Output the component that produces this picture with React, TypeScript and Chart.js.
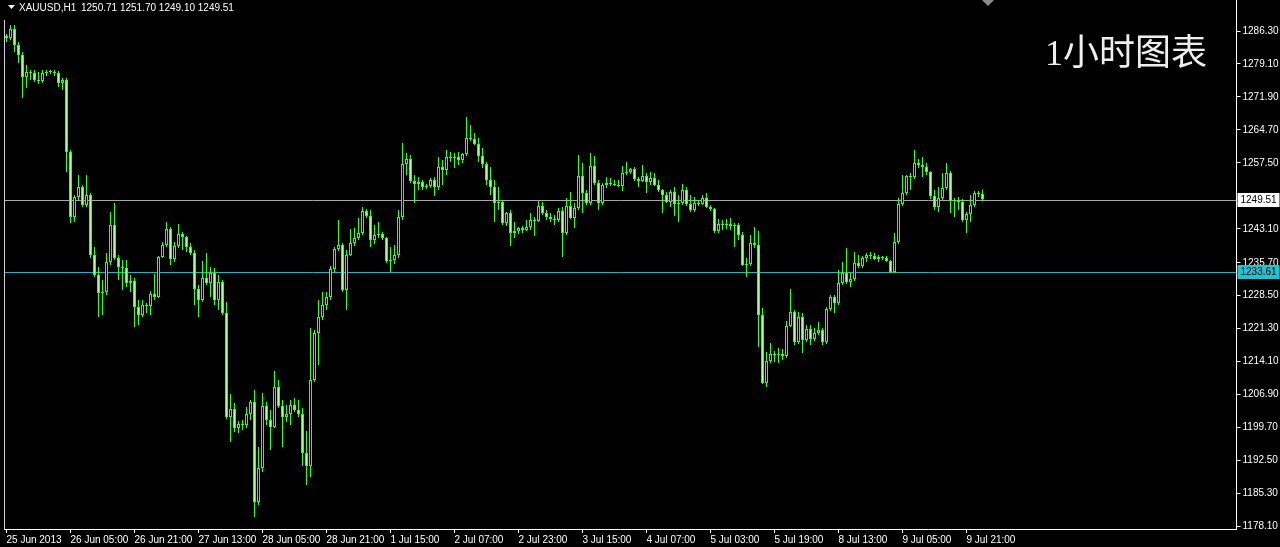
import { useEffect, useRef } from 'react';
import { Chart, registerables } from 'chart.js';

Chart.register(...registerables);

const SYMBOL = 'XAUUSD,H1';
const TITLE = '1小时图表';

const TICK_LABELS = [
  '25 Jun 2013', '26 Jun 05:00', '26 Jun 21:00', '27 Jun 13:00', '28 Jun 05:00', '28 Jun 21:00',
  '1 Jul 15:00', '2 Jul 07:00', '2 Jul 23:00', '3 Jul 15:00', '4 Jul 07:00', '5 Jul 03:00',
  '5 Jul 19:00', '8 Jul 13:00', '9 Jul 05:00', '9 Jul 21:00',
];

const Y_TICKS = [
  1178.10, 1185.30, 1192.50, 1199.70, 1206.90, 1214.10, 1221.30, 1228.50,
  1235.70, 1243.10, 1257.50, 1264.70, 1271.90, 1279.10, 1286.30,
];

const LAST_PRICE = 1249.51;
const LEVEL_PRICE = 1233.61;

const OPEN = [
  1285.21,1284.77,1286.74,1283.24,1281.06,1276.26,1277.35,1277.13,1275.60,1275.39,
  1277.13,1277.35,1277.35,1277.13,1274.95,1275.60,1259.89,1245.69,1250.06,1252.25,
  1248.31,1250.50,1237.39,1233.03,1229.10,1229.32,1235.86,1243.94,1236.74,1234.77,
  1234.55,1231.28,1231.72,1226.04,1224.30,1226.48,1226.26,1228.88,1228.22,1236.95,
  1239.57,1243.07,1236.52,1239.36,1241.98,1241.32,1239.14,1237.83,1229.97,1227.57,
  1232.37,1231.28,1233.46,1227.57,1231.50,1224.73,1202.02,1203.77,1199.62,1200.49,
  1200.27,1202.67,1205.29,1183.46,1190.88,1204.42,1201.36,1199.84,1208.58,1204.42,
  1202.02,1202.67,1204.64,1203.55,1202.67,1194.16,1191.32,1210.10,1220.36,1223.86,
  1226.48,1228.22,1234.34,1238.70,1239.57,1229.75,1237.39,1240.01,1241.10,1242.19,
  1247.00,1245.91,1240.67,1241.76,1241.98,1241.10,1236.08,1236.30,1237.39,1245.69,
  1257.27,1258.36,1253.56,1252.90,1253.34,1252.25,1252.47,1253.77,1252.25,1256.61,
  1255.96,1258.79,1258.57,1258.79,1258.14,1259.45,1262.94,1262.72,1261.63,1259.01,
  1257.27,1253.77,1252.25,1248.75,1248.96,1244.38,1246.56,1242.19,1242.63,1243.29,
  1242.85,1243.51,1245.03,1244.82,1248.09,1246.56,1245.69,1245.25,1245.03,1247.00,
  1242.19,1248.09,1245.47,1247.65,1254.65,1250.94,1248.75,1256.83,1253.12,1248.75,
  1252.68,1253.12,1252.90,1252.68,1252.47,1255.30,1255.52,1256.17,1253.99,1253.56,
  1254.65,1253.34,1254.21,1252.68,1251.59,1250.50,1248.96,1251.16,1248.53,1248.75,
  1251.59,1248.53,1247.22,1248.75,1248.53,1249.85,1247.87,1247.44,1242.63,1244.16,
  1243.94,1244.16,1243.72,1243.94,1241.76,1235.21,1235.42,1240.01,1239.57,1224.30,
  1209.45,1214.25,1215.78,1215.56,1215.78,1215.34,1221.89,1224.95,1218.40,1223.86,
  1218.84,1221.24,1219.05,1220.36,1221.02,1218.40,1225.61,1228.22,1226.91,1231.28,
  1233.46,1231.50,1232.15,1235.65,1235.00,1236.74,1237.39,1237.17,1236.52,1236.95,
  1236.74,1236.08,1233.68,1240.23,1248.53,1250.94,1254.65,1254.43,1257.49,1257.05,
  1256.61,1255.52,1250.28,1247.87,1249.85,1252.03,1255.30,1249.18,1249.40,1248.96,
  1245.03,1246.34,1248.31,1250.94,1250.71,
];

const HIGH = [
  1285.65,1287.61,1287.61,1283.90,1281.72,1278.88,1277.79,1277.79,1277.35,1277.79,
  1277.79,1277.79,1277.79,1277.57,1276.04,1276.04,1260.32,1250.50,1254.87,1252.68,
  1254.87,1250.94,1239.14,1234.77,1231.93,1237.83,1246.78,1248.75,1237.39,1236.30,
  1236.30,1233.03,1232.37,1227.57,1227.57,1226.92,1229.53,1233.24,1237.17,1240.23,
  1244.60,1243.51,1240.23,1244.16,1242.41,1241.54,1240.01,1238.48,1230.84,1236.08,
  1237.83,1234.77,1234.55,1233.03,1231.93,1227.13,1207.05,1205.08,1201.15,1201.36,
  1204.20,1205.73,1207.92,1195.47,1207.27,1205.29,1203.55,1212.07,1210.10,1205.73,
  1204.64,1205.73,1206.17,1205.73,1203.98,1198.96,1221.46,1221.02,1227.57,1229.32,
  1229.32,1235.00,1239.14,1245.03,1240.01,1238.48,1243.07,1243.29,1245.47,1247.87,
  1247.44,1247.22,1243.94,1244.60,1242.41,1241.32,1239.14,1239.57,1247.22,1261.85,
  1259.67,1259.23,1254.87,1254.43,1253.77,1252.90,1254.21,1254.43,1258.79,1258.14,
  1260.32,1259.89,1259.67,1259.89,1259.67,1267.53,1265.78,1264.03,1262.94,1260.76,
  1257.71,1256.61,1253.77,1252.25,1249.40,1246.78,1247.22,1244.60,1243.51,1243.72,
  1245.03,1246.56,1245.69,1249.18,1248.96,1247.22,1246.56,1246.13,1247.65,1247.87,
  1249.85,1251.16,1248.75,1259.23,1257.49,1251.59,1259.67,1259.01,1253.77,1253.12,
  1254.43,1254.21,1253.77,1253.77,1256.83,1257.71,1256.39,1256.61,1254.43,1257.05,
  1255.30,1255.52,1255.30,1253.77,1251.81,1251.16,1251.59,1252.25,1250.50,1252.90,
  1252.25,1250.50,1250.06,1249.40,1250.50,1250.94,1248.31,1247.65,1245.25,1245.03,
  1245.25,1245.47,1244.38,1244.38,1242.41,1236.74,1241.76,1243.51,1242.63,1225.82,
  1216.22,1218.18,1216.43,1217.09,1216.87,1222.99,1229.97,1225.39,1224.95,1224.73,
  1222.11,1222.11,1221.46,1222.77,1221.46,1226.04,1228.66,1228.66,1234.12,1235.86,
  1238.92,1233.46,1238.04,1237.39,1237.17,1237.83,1238.04,1237.83,1237.39,1237.17,
  1237.17,1236.30,1242.19,1249.85,1254.87,1254.87,1255.30,1260.32,1258.36,1258.79,
  1257.49,1255.74,1251.59,1252.25,1255.30,1257.49,1255.74,1249.85,1250.06,1249.62,
  1246.78,1250.50,1251.38,1251.38,1251.70,
];

const LOW = [
  1283.90,1284.34,1281.72,1279.32,1271.68,1273.86,1275.60,1275.17,1274.73,1274.95,
  1276.48,1276.91,1276.48,1274.08,1273.42,1255.52,1244.38,1244.60,1249.40,1247.87,
  1247.87,1236.74,1232.59,1223.86,1224.30,1228.66,1235.21,1236.30,1231.93,1229.75,
  1230.41,1229.32,1221.68,1222.11,1223.86,1224.73,1224.30,1227.57,1228.01,1236.74,
  1239.14,1235.21,1235.86,1238.92,1238.48,1238.04,1237.39,1226.48,1223.86,1227.13,
  1230.84,1228.22,1226.48,1225.39,1224.30,1201.58,1196.56,1198.74,1198.53,1199.18,
  1199.62,1201.36,1180.19,1182.81,1190.01,1200.27,1194.81,1199.62,1203.98,1195.47,
  1200.93,1200.27,1203.11,1202.02,1191.32,1187.17,1188.92,1209.66,1213.37,1223.20,
  1225.39,1227.57,1233.68,1238.26,1229.32,1225.39,1237.17,1239.36,1240.67,1241.76,
  1245.47,1239.14,1239.79,1241.10,1240.67,1235.65,1233.68,1235.43,1236.74,1245.03,
  1254.87,1253.12,1248.75,1251.59,1251.59,1251.81,1252.03,1250.28,1251.59,1252.68,
  1254.87,1257.71,1256.39,1257.05,1257.49,1259.01,1262.28,1261.41,1257.71,1256.39,
  1252.68,1250.50,1244.60,1247.22,1243.94,1243.72,1239.36,1241.10,1241.98,1242.19,
  1242.63,1242.85,1241.54,1244.60,1246.13,1245.03,1244.60,1243.94,1244.60,1236.95,
  1241.76,1245.25,1243.29,1247.22,1246.56,1248.31,1248.31,1252.68,1247.22,1248.31,
  1252.03,1252.47,1252.47,1252.25,1251.38,1254.87,1255.08,1253.56,1252.25,1253.34,
  1250.94,1252.68,1252.47,1251.16,1246.56,1248.75,1247.87,1245.91,1244.60,1248.31,
  1248.09,1246.78,1246.78,1248.09,1248.31,1247.65,1247.00,1242.19,1242.19,1242.85,
  1243.07,1242.85,1239.14,1240.67,1235.00,1232.59,1235.00,1238.92,1217.31,1209.23,
  1208.57,1213.81,1214.03,1213.81,1214.47,1214.90,1221.68,1217.75,1217.96,1216.00,
  1218.40,1217.75,1218.62,1219.93,1217.75,1217.96,1225.17,1224.73,1226.48,1230.84,
  1231.06,1230.41,1231.72,1234.55,1234.55,1235.86,1236.52,1236.30,1235.86,1236.30,
  1235.86,1233.46,1233.46,1239.79,1248.09,1250.50,1251.59,1253.99,1256.39,1254.43,
  1254.87,1249.62,1247.22,1246.78,1249.40,1251.59,1246.56,1245.69,1247.22,1244.60,
  1242.19,1244.60,1247.87,1250.06,1249.10,
];

const CLOSE = [
  1284.77,1286.74,1283.24,1281.06,1276.26,1277.35,1277.13,1275.60,1275.39,1277.13,
  1277.35,1277.35,1277.13,1274.95,1275.60,1259.89,1245.69,1250.06,1252.25,1248.31,
  1250.50,1237.39,1233.03,1229.10,1229.32,1235.86,1243.94,1236.74,1234.77,1234.55,
  1231.28,1231.72,1226.04,1224.30,1226.48,1226.26,1228.88,1228.22,1236.95,1239.57,
  1243.07,1236.52,1239.36,1241.98,1241.32,1239.14,1237.83,1229.97,1227.57,1232.37,
  1231.28,1233.46,1227.57,1231.50,1224.73,1202.02,1203.77,1199.62,1200.49,1200.27,
  1202.67,1205.29,1183.46,1190.88,1204.42,1201.36,1199.84,1208.58,1204.42,1202.02,
  1202.67,1204.64,1203.55,1202.67,1194.16,1191.32,1210.10,1220.36,1223.86,1226.48,
  1228.22,1234.34,1238.70,1239.57,1229.75,1237.39,1240.01,1241.10,1242.19,1247.00,
  1245.91,1240.67,1241.76,1241.98,1241.10,1236.08,1236.30,1237.39,1245.69,1257.27,
  1258.36,1253.56,1252.90,1253.34,1252.25,1252.47,1253.77,1252.25,1256.61,1255.96,
  1258.79,1258.57,1258.79,1258.14,1259.45,1262.94,1262.72,1261.63,1259.01,1257.27,
  1253.77,1252.25,1248.75,1248.96,1244.38,1246.56,1242.19,1242.63,1243.29,1242.85,
  1243.51,1245.03,1244.82,1248.09,1246.56,1245.69,1245.25,1245.03,1247.00,1242.19,
  1248.09,1245.47,1247.65,1254.65,1250.94,1248.75,1256.83,1253.12,1248.75,1252.68,
  1253.12,1252.90,1252.68,1252.47,1255.30,1255.52,1256.17,1253.99,1253.56,1254.65,
  1253.34,1254.21,1252.68,1251.59,1250.50,1248.96,1251.16,1248.53,1248.75,1251.59,
  1248.53,1247.22,1248.75,1248.53,1249.85,1247.87,1247.44,1242.63,1244.16,1243.94,
  1244.16,1243.72,1243.94,1241.76,1235.21,1235.42,1240.01,1239.57,1224.30,1209.45,
  1214.25,1215.78,1215.56,1215.78,1215.34,1221.89,1224.95,1218.40,1223.86,1218.84,
  1221.24,1219.05,1220.36,1221.02,1218.40,1225.61,1228.22,1226.91,1231.28,1233.46,
  1231.50,1232.15,1235.65,1235.00,1236.74,1237.39,1237.17,1236.52,1236.95,1236.74,
  1236.08,1233.68,1240.23,1248.53,1250.94,1254.65,1254.43,1257.49,1257.05,1256.61,
  1255.52,1250.28,1247.87,1249.85,1252.03,1255.30,1249.18,1249.40,1248.96,1245.03,
  1246.34,1248.31,1250.94,1250.71,1249.51,
];

const SLOT_COUNT = 308;
const TICK_EVERY = 16;
const Y_MIN = 1177.57;
const Y_MAX = 1293.07;

const GREEN = '#33ff22';
const BEAR_FILL = '#a8ff98';
const BULL_FILL = '#000000';
const SMALL_FONT = '"Liberation Sans", Arial, sans-serif';
const SMALL_SIZE = 10;

export default function App() {
  const ref = useRef<HTMLCanvasElement | null>(null);

  useEffect(() => {
    document.body.style.margin = '0';
    document.body.style.background = '#000';
    const canvas = ref.current;
    if (!canvas) return;

    const labels = Array.from({ length: SLOT_COUNT }, (_, i) => String(i));
    const bodies = OPEN.map((o, i) => [o, CLOSE[i]]);
    const wicks = LOW.map((l, i) => [l, HIGH[i]]);
    const fills = OPEN.map((o, i) => (CLOSE[i] < o ? BEAR_FILL : BULL_FILL));
    const last = CLOSE.length - 1;
    const isLabelled = (i: number) => i % TICK_EVERY === 0 && i / TICK_EVERY < TICK_LABELS.length;

    const overlay = {
      id: 'mt4overlay',
      beforeDatasetsDraw(chart: any) {
        const { ctx, chartArea, scales } = chart;
        ctx.save();
        ctx.lineWidth = 1;
        const drawH = (price: number, color: string) => {
          const y = Math.round(scales.y.getPixelForValue(price)) + 0.5;
          ctx.strokeStyle = color;
          ctx.beginPath();
          ctx.moveTo(chartArea.left, y);
          ctx.lineTo(chartArea.right, y);
          ctx.stroke();
        };
        drawH(LAST_PRICE, '#a8a8a8');
        drawH(LEVEL_PRICE, '#1fb5c4');
        ctx.restore();
      },
      afterDraw(chart: any) {
        const { ctx, chartArea, scales } = chart;
        ctx.save();
        ctx.strokeStyle = '#d0d0d0';
        ctx.lineWidth = 1;
        ctx.beginPath();
        ctx.moveTo(chartArea.left, 20);
        ctx.lineTo(chartArea.left, chartArea.bottom);
        ctx.stroke();

        ctx.fillStyle = '#ffffff';
        ctx.beginPath();
        ctx.moveTo(8, 5);
        ctx.lineTo(15, 5);
        ctx.lineTo(11.5, 9);
        ctx.closePath();
        ctx.fill();
        ctx.font = SMALL_SIZE + 'px ' + SMALL_FONT;
        ctx.textBaseline = 'middle';
        ctx.textAlign = 'left';
        ctx.fillText(SYMBOL, 19, 8);
        const vals = [OPEN[last], HIGH[last], LOW[last], CLOSE[last]].map((v) => v.toFixed(2)).join(' ');
        ctx.fillText(vals, 81, 8);

        ctx.font = '36px "Liberation Serif", "Noto Sans CJK SC", serif';
        ctx.textBaseline = 'alphabetic';
        ctx.fillStyle = '#eeeeee';
        ctx.fillText(TITLE, 1045, 65);

        ctx.fillStyle = '#8a8a8a';
        ctx.beginPath();
        ctx.moveTo(982, 0);
        ctx.lineTo(994, 0);
        ctx.lineTo(988, 6);
        ctx.closePath();
        ctx.fill();

        const tag = (price: number, bg: string) => {
          const y = Math.round(scales.y.getPixelForValue(price));
          ctx.fillStyle = bg;
          ctx.fillRect(chartArea.right + 1, y - 7, 42, 14);
          ctx.fillStyle = '#000000';
          ctx.font = SMALL_SIZE + 'px ' + SMALL_FONT;
          ctx.textBaseline = 'middle';
          ctx.fillText(price.toFixed(2), chartArea.right + 4, y + 0.5);
        };
        tag(LAST_PRICE, '#ffffff');
        tag(LEVEL_PRICE, '#1fc4d4');
        ctx.restore();
      },
    };

    const chart = new Chart(canvas, {
      type: 'bar',
      data: {
        labels,
        datasets: [
          {
            data: bodies as any,
            backgroundColor: fills,
            borderColor: GREEN,
            borderWidth: 1,
            borderSkipped: false,
            barThickness: 3,
            minBarLength: 1,
            grouped: false,
            order: 0,
            inflateAmount: 0,
          } as any,
          {
            data: wicks as any,
            backgroundColor: GREEN,
            borderWidth: 0,
            barThickness: 1,
            grouped: false,
            order: 1,
            inflateAmount: 0,
          } as any,
        ],
      },
      options: {
        responsive: false,
        animation: false,
        devicePixelRatio: 1,
        events: [],
        layout: { padding: { left: 4.5, right: 0, top: 0, bottom: 0 } },
        plugins: { legend: { display: false }, tooltip: { enabled: false } },
        scales: {
          x: {
            type: 'category',
            offset: true,
            grid: {
              display: true,
              drawOnChartArea: false,
              offset: false,
              tickLength: 4,
              color: (c: any) => (isLabelled(c.index) ? '#ffffff' : 'rgba(0,0,0,0)'),
            },
            border: { display: true, color: '#ffffff' },
            ticks: {
              autoSkip: false,
              maxRotation: 0,
              minRotation: 0,
              align: 'start',
              padding: 1,
              color: '#ffffff',
              font: { family: SMALL_FONT, size: SMALL_SIZE },
              callback: (_v: any, i: number) => (isLabelled(i) ? TICK_LABELS[i / TICK_EVERY] : ''),
            },
            afterFit: (s: any) => {
              s.height = 18;
              s.paddingLeft = 0;
              s.paddingRight = 0;
            },
          },
          y: {
            position: 'right',
            min: Y_MIN,
            max: Y_MAX,
            afterBuildTicks: (s: any) => {
              s.ticks = Y_TICKS.map((v) => ({ value: v }));
            },
            grid: { display: true, drawOnChartArea: false, tickLength: 4, color: '#ffffff' },
            border: { display: true, color: '#ffffff' },
            ticks: {
              color: '#ffffff',
              padding: 2,
              font: { family: SMALL_FONT, size: SMALL_SIZE },
              callback: (v: any) => Number(v).toFixed(2),
            },
            afterFit: (s: any) => {
              s.width = 43.5;
              s.paddingTop = 0;
              s.paddingBottom = 0;
            },
          },
        },
      } as any,
      plugins: [overlay],
    });

    return () => chart.destroy();
  }, []);

  return (
    <div style={{ width: 1280, height: 547, background: '#000' }}>
      <canvas ref={ref} width={1280} height={547} style={{ display: 'block', width: 1280, height: 547 }} />
    </div>
  );
}
